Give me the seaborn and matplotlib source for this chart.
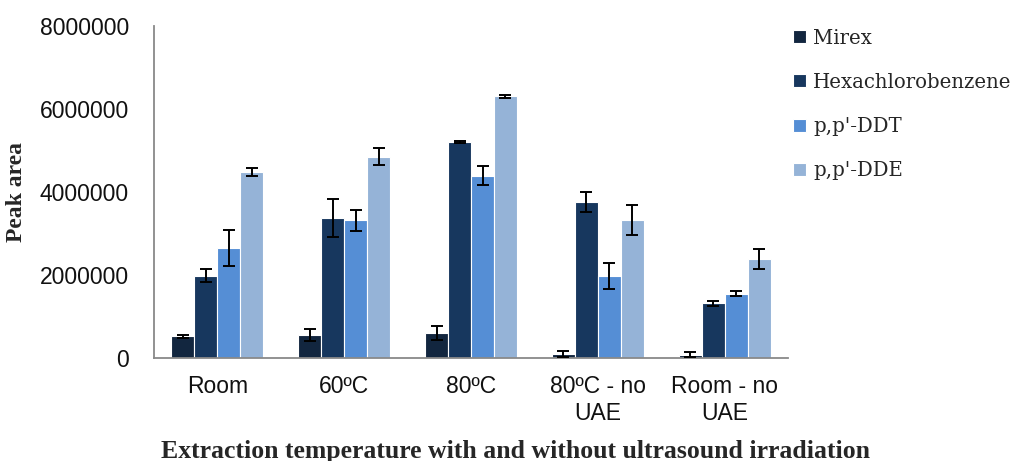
import numpy as np
import pandas as pd
import matplotlib
matplotlib.use("Agg")
import matplotlib.pyplot as plt
import seaborn as sns

# Extraction conditions and compounds
conditions = ["Room", "60ºC", "80ºC", "80ºC - no\nUAE", "Room - no\nUAE"]
compounds = ["Mirex", "Hexachlorobenzene", "p,p'-DDT", "p,p'-DDE"]

# Mean peak areas per compound (one value per condition)
mirex = [530000, 560000, 610000, 100000, 80000]
hexachlorobenzene = [1990000, 3370000, 5200000, 3770000, 1330000]
ddt = [2650000, 3320000, 4400000, 1980000, 1550000]
dde = [4480000, 4850000, 6310000, 3330000, 2380000]

# Standard deviations
mirex_sd = [40000, 145000, 160000, 80000, 60000]
hexachlorobenzene_sd = [165000, 460000, 20000, 240000, 60000]
ddt_sd = [440000, 260000, 220000, 310000, 60000]
dde_sd = [90000, 205000, 35000, 360000, 240000]

colors = ["#12263f", "#17375e", "#558ed5", "#95b3d7"]

means = [mirex, hexachlorobenzene, ddt, dde]
sds = [mirex_sd, hexachlorobenzene_sd, ddt_sd, dde_sd]
df = pd.DataFrame({
    "condition": np.tile(conditions, len(compounds)),
    "compound": np.repeat(compounds, len(conditions)),
    "area": np.concatenate(means),
    "sd": np.concatenate(sds),
})

sns.set_style("white")
fig = plt.figure(figsize=(10.16, 4.61), dpi=100)
ax = fig.add_axes([0.1516, 0.2228, 0.6240, 0.7208])

sns.barplot(data=df, x="condition", y="area", hue="compound",
            order=conditions, hue_order=compounds, palette=colors,
            width=0.725, errorbar=None, edgecolor="white", linewidth=0.8,
            saturation=1, ax=ax)

# Error bars at each bar's centre
for container, comp in zip(ax.containers, compounds):
    sub = df[df["compound"] == comp].set_index("condition").loc[conditions]
    xs = [p.get_x() + p.get_width() / 2 for p in container.patches]
    ax.errorbar(xs, sub["area"].values, yerr=sub["sd"].values, fmt="none",
                ecolor="black", elinewidth=1.4, capsize=4, capthick=1.4, zorder=5)

ax.set_ylim(0, 8000000)
ax.set_xlim(-0.5, len(conditions) - 0.5)
ax.set_yticks(np.arange(0, 8000001, 2000000))
ax.set_yticklabels([f"{int(v)}" for v in np.arange(0, 8000001, 2000000)])

# Category boundaries as major ticks, labels centred on minor ticks
ax.set_xticks(np.arange(-0.5, len(conditions), 1.0))
ax.set_xticklabels([])
ax.set_xticks(np.arange(len(conditions)), minor=True)
ax.set_xticklabels(conditions, minor=True)

for lbl in ax.get_yticklabels() + ax.get_xticklabels(minor=True):
    lbl.set_fontfamily("Liberation Sans")
    lbl.set_fontsize(16.5)
    lbl.set_color("#111111")

gray = "#898989"
ax.tick_params(axis="x", which="major", direction="out", length=6, width=1.2, color=gray)
ax.tick_params(axis="x", which="minor", length=0, pad=12)
ax.tick_params(axis="y", direction="out", length=5, width=1.2, color=gray, pad=13)
for s in ["top", "right"]:
    ax.spines[s].set_visible(False)
for s in ["left", "bottom"]:
    ax.spines[s].set_color(gray)
    ax.spines[s].set_linewidth(1.3)

ax.set_xlabel("Extraction temperature with and without ultrasound irradiation",
              fontfamily="Liberation Serif", fontweight="bold", fontsize=18.5)
ax.set_ylabel("Peak area", fontfamily="Liberation Serif", fontweight="bold",
              fontsize=17)
ax.xaxis.set_label_coords(0.57, -0.245)
ax.yaxis.set_label_coords(-0.2, 0.5)

ax.legend(loc="upper left", bbox_to_anchor=(0.781, 0.938),
          bbox_transform=fig.transFigure, frameon=False,
          prop={"family": "DejaVu Serif", "size": 14.2},
          handlelength=0.65, handleheight=0.65, handletextpad=0.35,
          labelspacing=1.28, borderaxespad=0, borderpad=0)

fig.savefig("out.png", dpi=100)
